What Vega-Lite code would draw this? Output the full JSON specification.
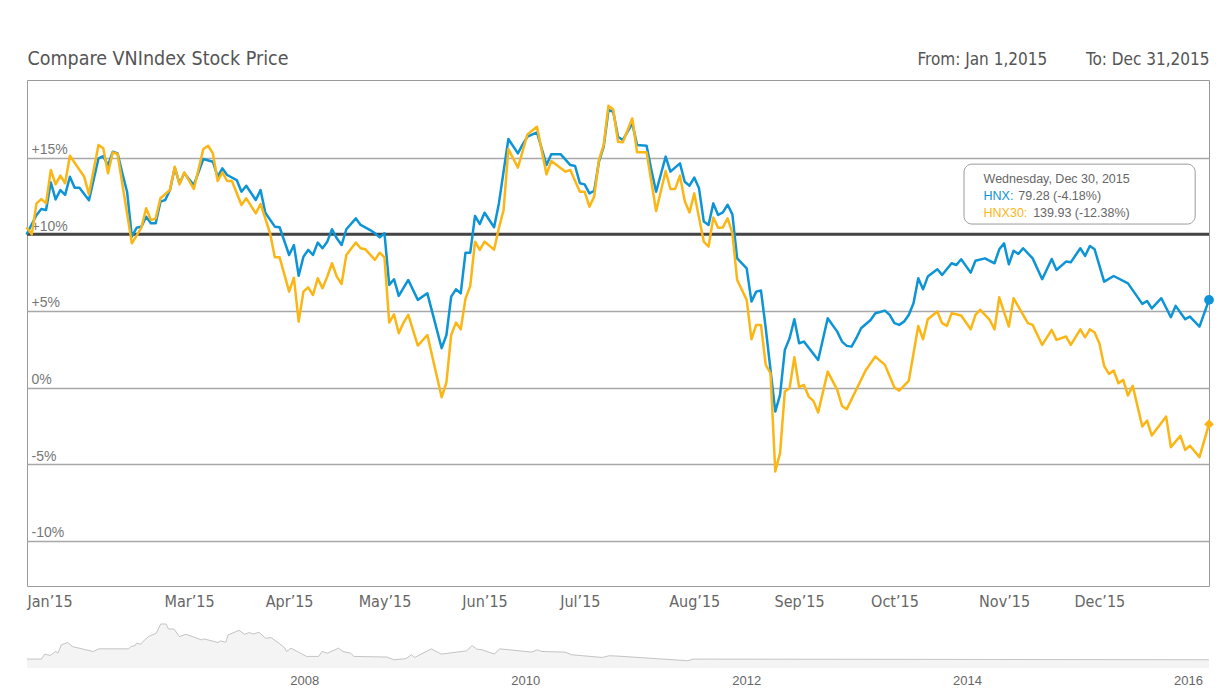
{
  "$schema": "https://vega.github.io/schema/vega-lite/v6.json",
  "padding": {"left": 25, "top": 47, "right": 10, "bottom": 0},
  "background": "white",
  "config": {
    "font": "Liberation Sans, Arial, sans-serif",
    "view": {"stroke": "#9a9a9a", "strokeWidth": 1},
    "concat": {"spacing": 12}
  },
  "datasets": {
    "prices": [
      {"t":0,"series":"HNX","pct":10.05},{"t":2,"series":"HNX","pct":11.26},{"t":3,"series":"HNX","pct":11.65},{"t":4,"series":"HNX","pct":11.59},{"t":5,"series":"HNX","pct":13.39},{"t":6,"series":"HNX","pct":12.28},{"t":7,"series":"HNX","pct":12.89},{"t":8,"series":"HNX","pct":12.57},{"t":9,"series":"HNX","pct":13.76},{"t":10,"series":"HNX","pct":13.04},{"t":11,"series":"HNX","pct":13.04},{"t":13,"series":"HNX","pct":12.22},{"t":15,"series":"HNX","pct":14.95},{"t":16,"series":"HNX","pct":15.1},{"t":17,"series":"HNX","pct":14.5},{"t":18,"series":"HNX","pct":15.39},{"t":19,"series":"HNX","pct":15.28},{"t":20,"series":"HNX","pct":13.98},{"t":21,"series":"HNX","pct":12.78},{"t":22,"series":"HNX","pct":9.85},{"t":23,"series":"HNX","pct":10.43},{"t":24,"series":"HNX","pct":10.5},{"t":25,"series":"HNX","pct":11.15},{"t":26,"series":"HNX","pct":10.72},{"t":27,"series":"HNX","pct":10.72},{"t":28,"series":"HNX","pct":12.13},{"t":29,"series":"HNX","pct":12.24},{"t":30,"series":"HNX","pct":12.89},{"t":31,"series":"HNX","pct":14.35},{"t":32,"series":"HNX","pct":13.33},{"t":33,"series":"HNX","pct":13.98},{"t":35,"series":"HNX","pct":13.22},{"t":37,"series":"HNX","pct":14.91},{"t":39,"series":"HNX","pct":14.74},{"t":40,"series":"HNX","pct":13.76},{"t":41,"series":"HNX","pct":14.3},{"t":42,"series":"HNX","pct":13.87},{"t":44,"series":"HNX","pct":13.54},{"t":45,"series":"HNX","pct":12.78},{"t":46,"series":"HNX","pct":13.17},{"t":48,"series":"HNX","pct":12.24},{"t":49,"series":"HNX","pct":12.89},{"t":50,"series":"HNX","pct":11.41},{"t":52,"series":"HNX","pct":10.5},{"t":53,"series":"HNX","pct":10.46},{"t":55,"series":"HNX","pct":8.65},{"t":56,"series":"HNX","pct":9.3},{"t":57,"series":"HNX","pct":7.3},{"t":58,"series":"HNX","pct":8.54},{"t":59,"series":"HNX","pct":8.98},{"t":60,"series":"HNX","pct":8.65},{"t":61,"series":"HNX","pct":9.46},{"t":62,"series":"HNX","pct":9.09},{"t":63,"series":"HNX","pct":9.52},{"t":64,"series":"HNX","pct":10.33},{"t":65,"series":"HNX","pct":9.74},{"t":66,"series":"HNX","pct":9.3},{"t":67,"series":"HNX","pct":10.33},{"t":69,"series":"HNX","pct":11.04},{"t":70,"series":"HNX","pct":10.61},{"t":72,"series":"HNX","pct":10.28},{"t":73,"series":"HNX","pct":10.07},{"t":74,"series":"HNX","pct":9.8},{"t":75,"series":"HNX","pct":10.07},{"t":76,"series":"HNX","pct":6.7},{"t":77,"series":"HNX","pct":7.07},{"t":78,"series":"HNX","pct":5.98},{"t":80,"series":"HNX","pct":7.02},{"t":82,"series":"HNX","pct":5.72},{"t":84,"series":"HNX","pct":6.15},{"t":87,"series":"HNX","pct":2.57},{"t":88,"series":"HNX","pct":3.43},{"t":89,"series":"HNX","pct":5.93},{"t":90,"series":"HNX","pct":6.41},{"t":91,"series":"HNX","pct":6.15},{"t":92,"series":"HNX","pct":8.8},{"t":93,"series":"HNX","pct":8.8},{"t":94,"series":"HNX","pct":11.2},{"t":95,"series":"HNX","pct":10.67},{"t":96,"series":"HNX","pct":11.41},{"t":98,"series":"HNX","pct":10.46},{"t":99,"series":"HNX","pct":12.0},{"t":101,"series":"HNX","pct":16.22},{"t":103,"series":"HNX","pct":15.28},{"t":104,"series":"HNX","pct":15.87},{"t":105,"series":"HNX","pct":16.37},{"t":107,"series":"HNX","pct":16.65},{"t":109,"series":"HNX","pct":14.52},{"t":110,"series":"HNX","pct":15.22},{"t":112,"series":"HNX","pct":15.22},{"t":114,"series":"HNX","pct":14.52},{"t":115,"series":"HNX","pct":14.46},{"t":116,"series":"HNX","pct":13.33},{"t":117,"series":"HNX","pct":13.26},{"t":118,"series":"HNX","pct":12.67},{"t":119,"series":"HNX","pct":12.83},{"t":120,"series":"HNX","pct":14.74},{"t":121,"series":"HNX","pct":15.72},{"t":122,"series":"HNX","pct":18.11},{"t":123,"series":"HNX","pct":18.0},{"t":124,"series":"HNX","pct":16.37},{"t":125,"series":"HNX","pct":16.15},{"t":127,"series":"HNX","pct":17.24},{"t":128,"series":"HNX","pct":15.83},{"t":130,"series":"HNX","pct":15.78},{"t":131,"series":"HNX","pct":14.2},{"t":132,"series":"HNX","pct":12.78},{"t":134,"series":"HNX","pct":15.07},{"t":135,"series":"HNX","pct":14.09},{"t":137,"series":"HNX","pct":14.63},{"t":138,"series":"HNX","pct":13.43},{"t":139,"series":"HNX","pct":13.17},{"t":140,"series":"HNX","pct":13.7},{"t":141,"series":"HNX","pct":13.0},{"t":142,"series":"HNX","pct":10.83},{"t":143,"series":"HNX","pct":10.61},{"t":144,"series":"HNX","pct":12.02},{"t":145,"series":"HNX","pct":11.26},{"t":146,"series":"HNX","pct":11.43},{"t":147,"series":"HNX","pct":11.93},{"t":148,"series":"HNX","pct":11.3},{"t":149,"series":"HNX","pct":8.43},{"t":151,"series":"HNX","pct":7.78},{"t":152,"series":"HNX","pct":5.61},{"t":153,"series":"HNX","pct":6.26},{"t":154,"series":"HNX","pct":6.33},{"t":155,"series":"HNX","pct":3.87},{"t":157,"series":"HNX","pct":-1.57},{"t":158,"series":"HNX","pct":-0.48},{"t":159,"series":"HNX","pct":2.46},{"t":160,"series":"HNX","pct":3.22},{"t":161,"series":"HNX","pct":4.46},{"t":162,"series":"HNX","pct":2.89},{"t":163,"series":"HNX","pct":3.0},{"t":166,"series":"HNX","pct":1.8},{"t":168,"series":"HNX","pct":4.52},{"t":170,"series":"HNX","pct":3.65},{"t":171,"series":"HNX","pct":3.0},{"t":172,"series":"HNX","pct":2.72},{"t":173,"series":"HNX","pct":2.67},{"t":174,"series":"HNX","pct":3.22},{"t":175,"series":"HNX","pct":3.87},{"t":177,"series":"HNX","pct":4.41},{"t":178,"series":"HNX","pct":4.85},{"t":180,"series":"HNX","pct":5.02},{"t":181,"series":"HNX","pct":4.74},{"t":182,"series":"HNX","pct":4.2},{"t":183,"series":"HNX","pct":4.09},{"t":184,"series":"HNX","pct":4.3},{"t":185,"series":"HNX","pct":4.74},{"t":186,"series":"HNX","pct":5.5},{"t":187,"series":"HNX","pct":7.13},{"t":188,"series":"HNX","pct":6.41},{"t":189,"series":"HNX","pct":7.24},{"t":191,"series":"HNX","pct":7.72},{"t":192,"series":"HNX","pct":7.35},{"t":194,"series":"HNX","pct":8.11},{"t":195,"series":"HNX","pct":8.0},{"t":196,"series":"HNX","pct":8.37},{"t":198,"series":"HNX","pct":7.5},{"t":199,"series":"HNX","pct":8.28},{"t":201,"series":"HNX","pct":8.43},{"t":203,"series":"HNX","pct":8.11},{"t":204,"series":"HNX","pct":9.02},{"t":205,"series":"HNX","pct":9.41},{"t":206,"series":"HNX","pct":8.04},{"t":207,"series":"HNX","pct":8.93},{"t":208,"series":"HNX","pct":8.72},{"t":209,"series":"HNX","pct":9.09},{"t":211,"series":"HNX","pct":8.43},{"t":213,"series":"HNX","pct":7.07},{"t":215,"series":"HNX","pct":8.39},{"t":216,"series":"HNX","pct":7.67},{"t":218,"series":"HNX","pct":8.22},{"t":219,"series":"HNX","pct":8.17},{"t":221,"series":"HNX","pct":9.09},{"t":222,"series":"HNX","pct":8.59},{"t":223,"series":"HNX","pct":9.24},{"t":224,"series":"HNX","pct":9.02},{"t":226,"series":"HNX","pct":6.91},{"t":228,"series":"HNX","pct":7.28},{"t":231,"series":"HNX","pct":6.8},{"t":234,"series":"HNX","pct":5.46},{"t":235,"series":"HNX","pct":5.65},{"t":236,"series":"HNX","pct":5.17},{"t":238,"series":"HNX","pct":5.83},{"t":240,"series":"HNX","pct":4.59},{"t":241,"series":"HNX","pct":5.33},{"t":243,"series":"HNX","pct":4.46},{"t":244,"series":"HNX","pct":4.63},{"t":246,"series":"HNX","pct":3.98},{"t":248,"series":"HNX","pct":5.72},
      {"t":0,"series":"HNX30","pct":10.39},{"t":1,"series":"HNX30","pct":10.0},{"t":2,"series":"HNX30","pct":12.02},{"t":3,"series":"HNX30","pct":12.3},{"t":4,"series":"HNX30","pct":12.02},{"t":5,"series":"HNX30","pct":14.2},{"t":6,"series":"HNX30","pct":13.26},{"t":7,"series":"HNX30","pct":13.83},{"t":8,"series":"HNX30","pct":13.33},{"t":9,"series":"HNX30","pct":15.13},{"t":12,"series":"HNX30","pct":13.76},{"t":13,"series":"HNX30","pct":12.61},{"t":15,"series":"HNX30","pct":15.83},{"t":16,"series":"HNX30","pct":15.61},{"t":17,"series":"HNX30","pct":13.98},{"t":18,"series":"HNX30","pct":15.35},{"t":19,"series":"HNX30","pct":15.24},{"t":22,"series":"HNX30","pct":9.41},{"t":24,"series":"HNX30","pct":10.43},{"t":25,"series":"HNX30","pct":11.7},{"t":26,"series":"HNX30","pct":10.93},{"t":27,"series":"HNX30","pct":11.04},{"t":28,"series":"HNX30","pct":12.35},{"t":30,"series":"HNX30","pct":12.89},{"t":31,"series":"HNX30","pct":14.41},{"t":32,"series":"HNX30","pct":13.26},{"t":33,"series":"HNX30","pct":14.04},{"t":35,"series":"HNX30","pct":12.96},{"t":37,"series":"HNX30","pct":15.57},{"t":38,"series":"HNX30","pct":15.78},{"t":39,"series":"HNX30","pct":15.28},{"t":40,"series":"HNX30","pct":13.48},{"t":41,"series":"HNX30","pct":14.04},{"t":42,"series":"HNX30","pct":13.48},{"t":43,"series":"HNX30","pct":13.48},{"t":45,"series":"HNX30","pct":11.91},{"t":46,"series":"HNX30","pct":12.35},{"t":48,"series":"HNX30","pct":11.37},{"t":49,"series":"HNX30","pct":11.98},{"t":51,"series":"HNX30","pct":10.07},{"t":52,"series":"HNX30","pct":8.5},{"t":53,"series":"HNX30","pct":8.5},{"t":55,"series":"HNX30","pct":6.26},{"t":56,"series":"HNX30","pct":7.17},{"t":57,"series":"HNX30","pct":4.3},{"t":58,"series":"HNX30","pct":6.26},{"t":59,"series":"HNX30","pct":6.54},{"t":60,"series":"HNX30","pct":6.04},{"t":61,"series":"HNX30","pct":7.13},{"t":62,"series":"HNX30","pct":6.48},{"t":63,"series":"HNX30","pct":7.24},{"t":64,"series":"HNX30","pct":8.11},{"t":65,"series":"HNX30","pct":7.24},{"t":66,"series":"HNX30","pct":6.76},{"t":67,"series":"HNX30","pct":8.65},{"t":69,"series":"HNX30","pct":9.46},{"t":70,"series":"HNX30","pct":9.09},{"t":71,"series":"HNX30","pct":9.02},{"t":73,"series":"HNX30","pct":8.33},{"t":74,"series":"HNX30","pct":8.8},{"t":75,"series":"HNX30","pct":8.5},{"t":76,"series":"HNX30","pct":4.24},{"t":77,"series":"HNX30","pct":4.78},{"t":78,"series":"HNX30","pct":3.54},{"t":79,"series":"HNX30","pct":4.24},{"t":80,"series":"HNX30","pct":4.74},{"t":82,"series":"HNX30","pct":2.74},{"t":84,"series":"HNX30","pct":3.43},{"t":87,"series":"HNX30","pct":-0.63},{"t":88,"series":"HNX30","pct":0.33},{"t":89,"series":"HNX30","pct":3.43},{"t":90,"series":"HNX30","pct":4.24},{"t":91,"series":"HNX30","pct":3.8},{"t":92,"series":"HNX30","pct":5.8},{"t":93,"series":"HNX30","pct":6.63},{"t":94,"series":"HNX30","pct":9.52},{"t":95,"series":"HNX30","pct":8.98},{"t":96,"series":"HNX30","pct":9.52},{"t":98,"series":"HNX30","pct":9.0},{"t":99,"series":"HNX30","pct":10.4},{"t":100,"series":"HNX30","pct":11.59},{"t":101,"series":"HNX30","pct":15.57},{"t":103,"series":"HNX30","pct":14.35},{"t":105,"series":"HNX30","pct":16.52},{"t":107,"series":"HNX30","pct":17.02},{"t":109,"series":"HNX30","pct":13.91},{"t":110,"series":"HNX30","pct":14.78},{"t":113,"series":"HNX30","pct":14.09},{"t":114,"series":"HNX30","pct":14.2},{"t":116,"series":"HNX30","pct":12.78},{"t":117,"series":"HNX30","pct":12.78},{"t":118,"series":"HNX30","pct":11.8},{"t":119,"series":"HNX30","pct":12.46},{"t":120,"series":"HNX30","pct":14.85},{"t":121,"series":"HNX30","pct":15.83},{"t":122,"series":"HNX30","pct":18.39},{"t":123,"series":"HNX30","pct":18.15},{"t":124,"series":"HNX30","pct":16.04},{"t":125,"series":"HNX30","pct":16.0},{"t":127,"series":"HNX30","pct":17.57},{"t":128,"series":"HNX30","pct":15.35},{"t":130,"series":"HNX30","pct":15.35},{"t":132,"series":"HNX30","pct":11.52},{"t":134,"series":"HNX30","pct":14.13},{"t":135,"series":"HNX30","pct":12.96},{"t":136,"series":"HNX30","pct":12.96},{"t":137,"series":"HNX30","pct":13.83},{"t":138,"series":"HNX30","pct":12.17},{"t":139,"series":"HNX30","pct":11.43},{"t":140,"series":"HNX30","pct":12.67},{"t":142,"series":"HNX30","pct":9.52},{"t":143,"series":"HNX30","pct":9.2},{"t":144,"series":"HNX30","pct":11.09},{"t":145,"series":"HNX30","pct":10.43},{"t":146,"series":"HNX30","pct":10.45},{"t":147,"series":"HNX30","pct":11.04},{"t":148,"series":"HNX30","pct":10.07},{"t":149,"series":"HNX30","pct":7.02},{"t":151,"series":"HNX30","pct":5.72},{"t":152,"series":"HNX30","pct":3.15},{"t":153,"series":"HNX30","pct":4.09},{"t":154,"series":"HNX30","pct":4.09},{"t":155,"series":"HNX30","pct":1.48},{"t":156,"series":"HNX30","pct":0.93},{"t":157,"series":"HNX30","pct":-5.48},{"t":158,"series":"HNX30","pct":-4.28},{"t":159,"series":"HNX30","pct":-0.26},{"t":160,"series":"HNX30","pct":-0.04},{"t":161,"series":"HNX30","pct":1.98},{"t":162,"series":"HNX30","pct":0.02},{"t":163,"series":"HNX30","pct":0.17},{"t":164,"series":"HNX30","pct":-0.59},{"t":165,"series":"HNX30","pct":-0.87},{"t":166,"series":"HNX30","pct":-1.63},{"t":168,"series":"HNX30","pct":1.04},{"t":170,"series":"HNX30","pct":-0.15},{"t":171,"series":"HNX30","pct":-1.2},{"t":172,"series":"HNX30","pct":-1.41},{"t":176,"series":"HNX30","pct":1.15},{"t":178,"series":"HNX30","pct":2.02},{"t":180,"series":"HNX30","pct":1.48},{"t":182,"series":"HNX30","pct":0.0},{"t":183,"series":"HNX30","pct":-0.2},{"t":185,"series":"HNX30","pct":0.43},{"t":187,"series":"HNX30","pct":4.02},{"t":188,"series":"HNX30","pct":3.15},{"t":189,"series":"HNX30","pct":4.46},{"t":191,"series":"HNX30","pct":4.96},{"t":192,"series":"HNX30","pct":4.2},{"t":193,"series":"HNX30","pct":4.02},{"t":194,"series":"HNX30","pct":4.85},{"t":196,"series":"HNX30","pct":4.7},{"t":198,"series":"HNX30","pct":3.8},{"t":199,"series":"HNX30","pct":4.74},{"t":200,"series":"HNX30","pct":5.07},{"t":202,"series":"HNX30","pct":4.41},{"t":203,"series":"HNX30","pct":3.8},{"t":204,"series":"HNX30","pct":5.89},{"t":206,"series":"HNX30","pct":3.98},{"t":207,"series":"HNX30","pct":5.83},{"t":210,"series":"HNX30","pct":4.2},{"t":211,"series":"HNX30","pct":4.09},{"t":213,"series":"HNX30","pct":2.78},{"t":215,"series":"HNX30","pct":3.76},{"t":216,"series":"HNX30","pct":3.11},{"t":218,"series":"HNX30","pct":3.33},{"t":219,"series":"HNX30","pct":2.78},{"t":221,"series":"HNX30","pct":3.8},{"t":222,"series":"HNX30","pct":3.28},{"t":223,"series":"HNX30","pct":3.8},{"t":224,"series":"HNX30","pct":3.59},{"t":225,"series":"HNX30","pct":2.89},{"t":226,"series":"HNX30","pct":1.41},{"t":227,"series":"HNX30","pct":0.89},{"t":228,"series":"HNX30","pct":1.11},{"t":229,"series":"HNX30","pct":0.28},{"t":230,"series":"HNX30","pct":0.5},{"t":231,"series":"HNX30","pct":-0.52},{"t":232,"series":"HNX30","pct":0.11},{"t":234,"series":"HNX30","pct":-2.54},{"t":235,"series":"HNX30","pct":-2.15},{"t":236,"series":"HNX30","pct":-3.13},{"t":239,"series":"HNX30","pct":-1.89},{"t":240,"series":"HNX30","pct":-3.89},{"t":242,"series":"HNX30","pct":-3.15},{"t":243,"series":"HNX30","pct":-4.07},{"t":244,"series":"HNX30","pct":-3.8},{"t":246,"series":"HNX30","pct":-4.54},{"t":248,"series":"HNX30","pct":-2.39}
    ],
    "nav": [
      {"year":2005.49,"index":93},{"year":2005.62,"index":93},{"year":2005.65,"index":145},{"year":2005.70,"index":131},{"year":2005.75,"index":172},{"year":2005.77,"index":155},{"year":2005.80,"index":241},{"year":2005.86,"index":266},{"year":2005.90,"index":224},{"year":2006.09,"index":172},{"year":2006.14,"index":200},{"year":2006.41,"index":200},{"year":2006.43,"index":224},{"year":2006.47,"index":235},{"year":2006.48,"index":259},{"year":2006.52,"index":248},{"year":2006.54,"index":276},{"year":2006.59,"index":328},{"year":2006.66,"index":362},{"year":2006.70,"index":459},{"year":2006.75,"index":459},{"year":2006.77,"index":407},{"year":2006.82,"index":407},{"year":2006.87,"index":328},{"year":2006.93,"index":352},{"year":2007.07,"index":293},{"year":2007.09,"index":304},{"year":2007.22,"index":266},{"year":2007.24,"index":283},{"year":2007.29,"index":269},{"year":2007.31,"index":345},{"year":2007.41,"index":393},{"year":2007.46,"index":352},{"year":2007.50,"index":369},{"year":2007.54,"index":355},{"year":2007.59,"index":373},{"year":2007.65,"index":310},{"year":2007.70,"index":317},{"year":2007.77,"index":259},{"year":2007.82,"index":214},{"year":2007.84,"index":172},{"year":2007.88,"index":207},{"year":2008.02,"index":121},{"year":2008.13,"index":121},{"year":2008.16,"index":172},{"year":2008.21,"index":155},{"year":2008.31,"index":207},{"year":2008.35,"index":172},{"year":2008.42,"index":155},{"year":2008.45,"index":121},{"year":2008.75,"index":114},{"year":2008.81,"index":86},{"year":2008.92,"index":97},{"year":2008.97,"index":138},{"year":2009.00,"index":110},{"year":2009.15,"index":200},{"year":2009.24,"index":145},{"year":2009.47,"index":179},{"year":2009.52,"index":235},{"year":2009.56,"index":197},{"year":2009.61,"index":190},{"year":2009.72,"index":145},{"year":2009.77,"index":200},{"year":2010.06,"index":166},{"year":2010.11,"index":190},{"year":2010.15,"index":172},{"year":2010.36,"index":166},{"year":2010.42,"index":138},{"year":2010.70,"index":110},{"year":2010.76,"index":128},{"year":2010.84,"index":124},{"year":2011.47,"index":76},{"year":2011.52,"index":93},{"year":2016.19,"index":86}
    ],
    "tip": [
      {"text":"Wednesday, Dec 30, 2015","series":"none","t":200.7,"pct":13.6},
      {"text":"HNX:","series":"HNX","t":200.7,"pct":12.5},
      {"text":"79.28 (-4.18%)","series":"none","t":208.0,"pct":12.5},
      {"text":"HNX30:","series":"HNX30","t":200.7,"pct":11.42},
      {"text":"139.93 (-12.38%)","series":"none","t":211.1,"pct":11.42}
    ]
  },
  "vconcat": [
    {
      "width": 1182,
      "height": 506,
      "layer": [
        {
          "data": {"values": [{"pct": 10}]},
          "mark": {"type": "rule", "color": "#444444", "strokeWidth": 3},
          "encoding": {
            "y": {"field": "pct", "type": "quantitative", "scale": {"domain": [-12.95, 20.07], "nice": false, "zero": false},
              "axis": {"values": [-10, -5, 0, 5, 10, 15], "title": null, "grid": true, "gridColor": "#a8a8a8", "gridWidth": 1.3,
                "domain": false, "ticks": false, "tickSize": 0, "labelAlign": "left", "labelBaseline": "alphabetic",
                "labelPadding": -4, "labelOffset": -4, "labelFontSize": 14, "labelColor": "#777777", "labelFont": "Liberation Sans, Arial, sans-serif",
                "labelExpr": "datum.value > 0 ? '+' + datum.value + '%' : datum.value + '%'"}}
          }
        },
        {
          "data": {"name": "prices"},
          "mark": {"type": "line", "strokeWidth": 2.5, "strokeJoin": "round", "strokeCap": "round"},
          "encoding": {
            "x": {"field": "t", "type": "quantitative", "scale": {"domain": [0, 248], "nice": false, "zero": false},
              "axis": {"values": [0, 34, 55, 75, 96, 116, 140, 162, 182, 205, 225], "title": null, "grid": false, "domain": false, "ticks": false,
                "labelPadding": 7, "labelFont": "Liberation Sans Narrow, DejaVu Sans Condensed, sans-serif", "labelFontSize": 16, "labelColor": "#666666",
                "labelFlush": true, "labelOverlap": false,
                "labelExpr": "['Jan’15','Mar’15','Apr’15','May’15','Jun’15','Jul’15','Aug’15','Sep’15','Oct’15','Nov’15','Dec’15'][indexof([0,34,55,75,96,116,140,162,182,205,225], datum.value)]"}},
            "y": {"field": "pct", "type": "quantitative"},
            "color": {"field": "series", "type": "nominal", "scale": {"domain": ["HNX", "HNX30", "none"], "range": ["#0d94d6", "#fbb615", "#666666"]}, "legend": null}
          }
        },
        {
          "data": {"name": "prices"},
          "transform": [{"filter": "datum.t == 248"}],
          "mark": {"type": "point", "filled": true, "opacity": 1, "size": 95},
          "encoding": {
            "x": {"field": "t", "type": "quantitative",
              "axis": {"orient": "top", "title": "Compare VNIndex Stock Price", "titleAnchor": "start", "titleAlign": "left", "titleBaseline": "alphabetic",
                "titlePadding": 16, "titleFont": "Liberation Sans Narrow, DejaVu Sans Condensed, sans-serif", "titleFontSize": 19.5, "titleFontWeight": "normal",
                "titleColor": "#555555", "labels": false, "ticks": false, "domain": false, "grid": false}},
            "y": {"field": "pct", "type": "quantitative"},
            "color": {"field": "series", "type": "nominal", "legend": null},
            "shape": {"field": "series", "type": "nominal", "scale": {"domain": ["HNX", "HNX30"], "range": ["circle", "diamond"]}, "legend": null}
          }
        },
        {
          "data": {"values": [{}]},
          "mark": {"type": "rect", "fill": "white", "stroke": "#9a9a9a", "strokeWidth": 1, "cornerRadius": 8},
          "encoding": {
            "x": {"datum": 196.6, "type": "quantitative",
              "axis": {"orient": "top", "title": "From: Jan 1,2015\u00a0\u00a0\u00a0\u00a0\u00a0\u00a0\u00a0\u00a0To: Dec 31,2015", "titleAnchor": "end", "titleAlign": "right", "titleBaseline": "alphabetic",
                "titlePadding": 16, "titleFont": "Liberation Sans Narrow, DejaVu Sans Condensed, sans-serif", "titleFontSize": 17, "titleFontWeight": "normal",
                "titleColor": "#555555", "labels": false, "ticks": false, "domain": false, "grid": false}},
            "x2": {"datum": 245.1},
            "y": {"datum": 14.58, "type": "quantitative"},
            "y2": {"datum": 10.67}
          }
        },
        {
          "data": {"name": "tip"},
          "mark": {"type": "text", "align": "left", "baseline": "middle", "fontSize": 12.5, "font": "Liberation Sans, Arial, sans-serif"},
          "encoding": {
            "x": {"field": "t", "type": "quantitative", "axis": null},
            "y": {"field": "pct", "type": "quantitative"},
            "text": {"field": "text"},
            "color": {"field": "series", "type": "nominal", "legend": null}
          }
        }
      ],
      "resolve": {"axis": {"x": "independent"}}
    },
    {
      "width": 1182,
      "height": 46,
      "view": {"stroke": null},
      "data": {"name": "nav"},
      "mark": {"type": "area", "fill": "#efefef", "line": {"color": "#c4c4c4", "strokeWidth": 1}},
      "encoding": {
        "x": {"field": "year", "type": "quantitative", "scale": {"domain": [2005.49, 2016.19], "nice": false, "zero": false},
          "axis": {"values": [2008, 2010, 2012, 2014, 2016], "format": "d", "title": null, "domain": false, "ticks": false, "grid": false,
            "labelPadding": 6, "labelFontSize": 13, "labelColor": "#666666", "labelFlush": false, "labelFont": "Liberation Sans, Arial, sans-serif"}},
        "y": {"field": "index", "type": "quantitative", "scale": {"domain": [0, 480], "nice": false}, "axis": null}
      }
    }
  ]
}
